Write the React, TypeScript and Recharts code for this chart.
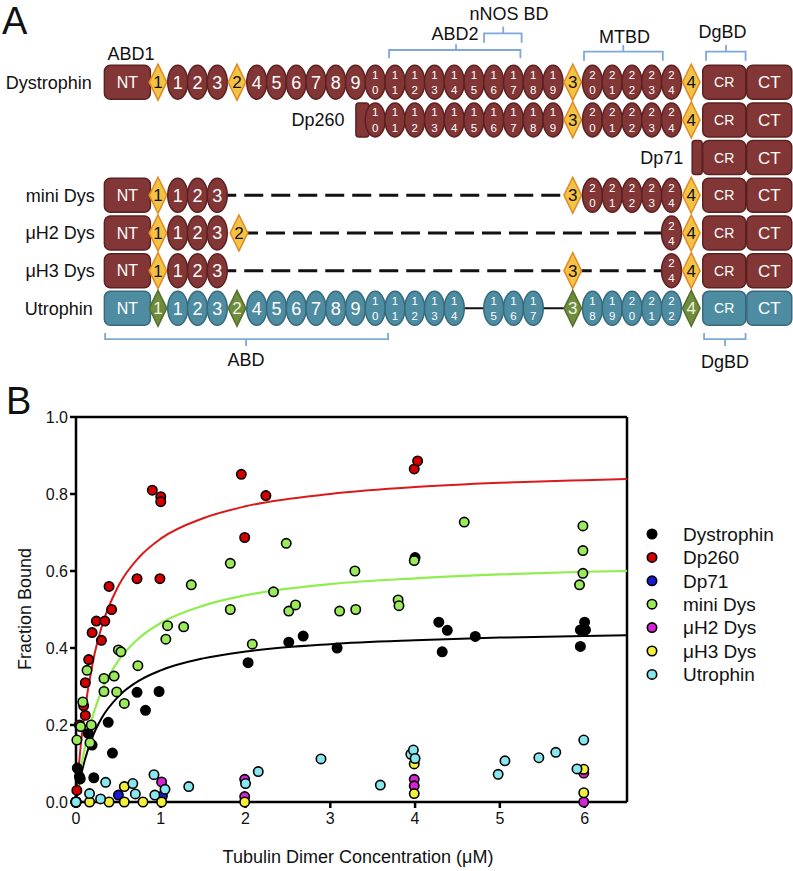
import {
  ComposedChart,
  ScatterChart,
  Scatter,
  Line,
  XAxis,
  YAxis,
  ReferenceLine,
  Customized,
} from "recharts";

const FONT = "'Liberation Sans', Arial, Helvetica, sans-serif";

/* ================= panel A : domain maps ================= */

// protein names, one per row
const rowNames = ["Dystrophin", "Dp260", "Dp71", "mini Dys", "μH2 Dys", "μH3 Dys", "Utrophin"];
// slot where each name ends (text is right aligned)
const rowNameEnd = [-3.35, 9.45, 26.6, -3.2, -3.2, -3.2, -3.3];

// [domain, slot]  NT / CR / CT boxes, H = hinge, R = spectrin repeat, S = truncated start
const dystrophinDomains: [string, number][] = [
  ["NT", -1.55], ["H1", 0], ["R1", 1], ["R2", 2], ["R3", 3], ["H2", 4],
  ["R4", 5], ["R5", 6], ["R6", 7], ["R7", 8], ["R8", 9], ["R9", 10], ["R10", 11],
  ["R11", 12], ["R12", 13], ["R13", 14], ["R14", 15], ["R15", 16], ["R16", 17],
  ["R17", 18], ["R18", 19], ["R19", 20], ["H3", 21], ["R20", 22], ["R21", 23],
  ["R22", 24], ["R23", 25], ["R24", 26], ["H4", 27], ["CR", 28.67], ["CT", 30.95],
];
const dp260Domains: [string, number][] = [
  ["S260", 10.35], ["R10", 11], ["R11", 12], ["R12", 13], ["R13", 14], ["R14", 15],
  ["R15", 16], ["R16", 17], ["R17", 18], ["R18", 19], ["R19", 20], ["H3", 21],
  ["R20", 22], ["R21", 23], ["R22", 24], ["R23", 25], ["R24", 26], ["H4", 27],
  ["CR", 28.67], ["CT", 30.95],
];
const dp71Domains: [string, number][] = [["S71", 27.3], ["CR", 28.67], ["CT", 30.95]];
const miniDysDomains: [string, number][] = [
  ["NT", -1.55], ["H1", 0], ["R1", 1], ["R2", 2], ["R3", 3], ["H3", 21],
  ["R20", 22], ["R21", 23], ["R22", 24], ["R23", 25], ["R24", 26], ["H4", 27],
  ["CR", 28.67], ["CT", 30.95],
];
const uH2Domains: [string, number][] = [
  ["NT", -1.55], ["H1", 0], ["R1", 1], ["R2", 2], ["R3", 3], ["H2", 4.1],
  ["R24", 26], ["H4", 27], ["CR", 28.67], ["CT", 30.95],
];
const uH3Domains: [string, number][] = [
  ["NT", -1.55], ["H1", 0], ["R1", 1], ["R2", 2], ["R3", 3], ["H3", 21],
  ["R24", 26], ["H4", 27], ["CR", 28.67], ["CT", 30.95],
];
const utrophinDomains: [string, number][] = [
  ["NT", -1.55], ["H1", 0], ["R1", 1], ["R2", 2], ["R3", 3], ["H2", 4],
  ["R4", 5], ["R5", 6], ["R6", 7], ["R7", 8], ["R8", 9], ["R9", 10], ["R10", 11],
  ["R11", 12], ["R12", 13], ["R13", 14], ["R14", 15], ["R15", 17], ["R16", 18],
  ["R17", 19], ["H3", 21], ["R18", 22], ["R19", 23], ["R20", 24], ["R21", 25],
  ["R22", 26], ["H4", 27], ["CR", 28.67], ["CT", 30.95],
];
const rowDomains = [
  dystrophinDomains, dp260Domains, dp71Domains, miniDysDomains,
  uH2Domains, uH3Domains, utrophinDomains,
];

// missing stretches: row, from slot, to slot, dashed (deleted) or solid (hinge gap)
const gaps: [number, number, number, boolean][] = [
  [3, 3, 21, true],
  [4, 4.1, 26, true],
  [5, 3, 21, true],
  [5, 21, 26, true],
  [6, 15, 17, false],
  [6, 19, 21, false],
];

// brackets: from, to, tip slot, bar row, end row, tip row
const bracketNames = ["ABD2", "nNOS BD", "MTBD", "DgBD", "ABD", "DgBD"];
const brackets: [number, number, number, number, number, number][] = [
  [11.7, 18.35, 15.09, -0.855, -0.634, -1.006],
  [16.51, 18.41, 17.48, -1.297, -1.048, -1.473],
  [21.57, 25.56, 23.56, -0.81, -0.571, -0.987],
  [27.75, 29.75, 28.76, -0.81, -0.571, -0.987],
  [-2.68, 11.65, 4.46, 6.814, 6.655, 6.999],
  [27.65, 29.75, 28.71, 6.814, 6.655, 6.999],
];
// label anchors: slot, row
const bracketLabelPos: [number, number][] = [
  [15.04, -1.297], [17.77, -1.828], [23.62, -1.207], [28.58, -1.34], [4.46, 7.37], [28.71, 7.42],
];
const abd1Pos: [number, number] = [-1.37, -0.767];

const BOX_W: Record<string, number> = { NT: 46, CR: 43, CT: 45, S260: 13, S71: 10 };

function DomainShape(props: any) {
  const { cx, cy, payload } = props;
  const id: string = payload.id;
  const utr = payload.utr;
  const fill = utr ? "#4E8CA2" : "#833636";
  const edge = utr ? "#376A7D" : "#5C2121";
  if (BOX_W[id]) {
    const w = BOX_W[id];
    const stub = id[0] === "S";
    return (
      <g>
        <rect x={cx - w / 2} y={cy - 17} width={w} height={34} rx={stub ? 3 : 6} fill={fill} stroke={edge} strokeWidth={1.5} />
        {!stub && (
          <text x={cx} y={cy} dy="0.36em" textAnchor="middle" fill="#fff" fontFamily={FONT}
            fontSize={id === "CR" ? 14 : id === "CT" ? 17 : 16}>
            {id}
          </text>
        )}
      </g>
    );
  }
  if (id[0] === "H") {
    return (
      <g>
        <polygon
          points={`${cx},${cy - 18} ${cx + 8.8},${cy} ${cx},${cy + 18} ${cx - 8.8},${cy}`}
          fill={utr ? "#6E8C3C" : "#F5C344"} stroke={utr ? "#55702C" : "#E08A25"} strokeWidth={1.5}
        />
        <text x={cx} y={cy} dy="0.36em" textAnchor="middle" fontFamily={FONT} fontSize={17}
          fill={utr ? "#EEF3E0" : "#111"}>
          {id.slice(1)}
        </text>
      </g>
    );
  }
  const n = id.slice(1);
  return (
    <g>
      <ellipse cx={cx} cy={cy} rx={10} ry={17} fill={fill} stroke={edge} strokeWidth={1.5} />
      {n.length === 1 ? (
        <text x={cx} y={cy} dy="0.36em" textAnchor="middle" fill="#fff" fontFamily={FONT} fontSize={18}>{n}</text>
      ) : (
        <g fill="#fff" fontFamily={FONT} fontSize={11.5} textAnchor="middle">
          <text x={cx} y={cy - 7.6} dy="0.36em">{n[0]}</text>
          <text x={cx} y={cy + 7.6} dy="0.36em">{n[1]}</text>
        </g>
      )}
    </g>
  );
}

const TextShape = (props: any) => (
  <text x={props.cx} y={props.cy} dy="0.36em" textAnchor={props.payload.anchor} fontFamily={FONT}
    fontSize={18} fill="#111">
    {props.payload.text}
  </text>
);

const Nothing = () => <g />;

const PanelA = () => {
  const domainPoints = rowDomains.flatMap((doms, row) =>
    doms.map(([id, slot]) => ({ x: slot, y: row, id, utr: row === 6 }))
  );
  const labels = [
    ...rowNames.map((t, row) => ({ x: rowNameEnd[row], y: row, text: t, anchor: "end" })),
    ...bracketNames.map((t, i) => ({ x: bracketLabelPos[i][0], y: bracketLabelPos[i][1], text: t, anchor: "middle" })),
    { x: abd1Pos[0], y: abd1Pos[1], text: "ABD1", anchor: "middle" },
  ];
  return (
    <ScatterChart width={793} height={380} margin={{ top: 0, right: 0, bottom: 0, left: 0 }}>
      <XAxis type="number" dataKey="x" domain={[-8, 32.152]} allowDataOverflow hide />
      <YAxis type="number" dataKey="y" domain={[-2.181, 7.901]} allowDataOverflow reversed hide />
      {gaps.map(([row, from, to, dashed], i) => (
        <Scatter
          key={`gap-${i}`}
          data={[{ x: from, y: row }, { x: to, y: row }]}
          fill="none"
          shape={Nothing}
          line={{ stroke: "#111", strokeWidth: dashed ? 3 : 2, strokeDasharray: dashed ? "19 8" : undefined }}
          isAnimationActive={false}
        />
      ))}
      {brackets.map(([from, to, tip, bar, end, tipY], i) => (
        <Scatter
          key={`br-${i}`}
          data={[
            { x: from, y: end }, { x: from, y: bar }, { x: tip, y: bar }, { x: tip, y: tipY },
            { x: tip, y: bar }, { x: to, y: bar }, { x: to, y: end },
          ]}
          fill="none"
          shape={Nothing}
          line={{ stroke: "#7FA8DA", strokeWidth: 1.8 }}
          isAnimationActive={false}
        />
      ))}
      <Scatter data={domainPoints} shape={DomainShape} isAnimationActive={false} />
      <Scatter data={labels} shape={TextShape} isAnimationActive={false} />
      <Customized
        component={() => (
          <text x={2} y={34} fontFamily={FONT} fontSize={38} fill="#111">A</text>
        )}
      />
    </ScatterChart>
  );
};

/* ================= panel B : co-sedimentation ================= */

const seriesNames = ["Dystrophin", "Dp260", "Dp71", "mini Dys", "μH2 Dys", "μH3 Dys", "Utrophin"];
const seriesColors = ["#000000", "#D20000", "#1A1ACF", "#9BEA5A", "#D425D4", "#F4EF3C", "#88E6EE"];

const dystrophinPts: [number, number][] = [
  [0, 0], [0.015, 0.088], [0.04, 0.066], [0.05, 0.06], [0.145, 0.178], [0.19, 0.148],
  [0.21, 0.063], [0.38, 0.207], [0.43, 0.127], [0.72, 0.285], [0.82, 0.238], [0.98, 0.287],
  [2.03, 0.362], [2.51, 0.415], [2.68, 0.431], [3.08, 0.4], [4.0, 0.635], [4.28, 0.467],
  [4.32, 0.39], [4.38, 0.446], [4.71, 0.43], [5.95, 0.447], [5.95, 0.404], [6.0, 0.467],
  [6.01, 0.447],
];
const dp260Pts: [number, number][] = [
  [0, 0], [0.01, 0.03], [0.04, 0.2], [0.09, 0.25], [0.11, 0.225], [0.11, 0.31],
  [0.15, 0.37], [0.19, 0.44], [0.24, 0.47], [0.3, 0.42], [0.34, 0.47], [0.39, 0.56],
  [0.42, 0.5], [0.72, 0.58], [0.9, 0.81], [0.99, 0.58], [1.0, 0.793], [1.0, 0.78],
  [1.95, 0.851], [1.99, 0.687], [2.24, 0.796], [3.99, 0.865], [4.03, 0.886],
];
const dp71Pts: [number, number][] = [[0, 0], [0.5, 0.018], [1.02, 0.016]];
const miniDysPts: [number, number][] = [
  [0, 0], [0.01, 0.161], [0.055, 0.196], [0.08, 0.26], [0.13, 0.342], [0.165, 0.154],
  [0.18, 0.2], [0.33, 0.321], [0.33, 0.287], [0.45, 0.327], [0.48, 0.286], [0.5, 0.395],
  [0.53, 0.39], [0.57, 0.256], [0.73, 0.354], [1.06, 0.423], [1.08, 0.458], [1.27, 0.455],
  [1.36, 0.564], [1.82, 0.62], [1.82, 0.5], [2.08, 0.41], [2.33, 0.546], [2.48, 0.672],
  [2.51, 0.496], [2.59, 0.512], [3.11, 0.496], [3.29, 0.6], [3.3, 0.5], [3.8, 0.525],
  [3.81, 0.51], [3.99, 0.627], [4.58, 0.727], [5.94, 0.564], [5.98, 0.594], [5.98, 0.653],
  [5.98, 0.717],
];
const uH2Pts: [number, number][] = [
  [0, 0], [1.01, 0.052], [1.99, 0.059], [1.99, 0.014], [3.99, 0.059], [3.99, 0.042],
  [5.99, 0.075], [5.99, 0.0],
];
const uH3Pts: [number, number][] = [
  [0, 0], [0.16, 0.0], [0.39, 0.0], [0.57, 0.0], [0.57, 0.04], [0.79, 0.0], [1.01, 0.0],
  [1.99, 0.0], [3.99, 0.022], [3.99, 0.099], [5.99, 0.024], [5.99, 0.085],
];
const utrophinPts: [number, number][] = [
  [0, 0], [0.16, 0.022], [0.29, 0.008], [0.35, 0.051], [0.67, 0.048], [0.7, 0.021],
  [0.92, 0.071], [0.93, 0.018], [1.05, 0.033], [1.33, 0.04], [2.0, 0.048], [2.15, 0.079],
  [2.89, 0.112], [3.59, 0.044], [3.95, 0.124], [3.98, 0.135], [4.0, 0.113], [4.98, 0.072],
  [5.06, 0.107], [5.46, 0.115], [5.66, 0.129], [5.91, 0.086], [5.99, 0.161],
];
const seriesPts = [dystrophinPts, dp260Pts, dp71Pts, miniDysPts, uH2Pts, uH3Pts, utrophinPts];

// fitted binding curves
const curveX = [0, 0.05, 0.1, 0.2, 0.3, 0.5, 0.75, 1, 1.5, 2, 3, 4, 5, 6, 6.5];
const dp260Fit = [0, 0.133, 0.23, 0.365, 0.453, 0.561, 0.637, 0.684, 0.737, 0.768, 0.8, 0.818, 0.829, 0.836, 0.839];
const miniDysFit = [0, 0.077, 0.137, 0.225, 0.287, 0.367, 0.427, 0.465, 0.51, 0.537, 0.566, 0.581, 0.591, 0.598, 0.6];
const dystrophinFit = [0, 0.06, 0.106, 0.172, 0.217, 0.274, 0.316, 0.342, 0.373, 0.391, 0.41, 0.42, 0.427, 0.431, 0.433];

const concTicks = [0, 1, 2, 3, 4, 5, 6];
const fractionTicks = [0, 0.2, 0.4, 0.6, 0.8, 1.0];

const toXY = (pts: [number, number][]) => pts.map(([x, y]) => ({ x, y }));
const fit = (ys: number[]) => curveX.map((x, i) => ({ x, y: ys[i] }));

const dotShape = (color: string) => (p: any) => (
  <circle cx={p.cx} cy={p.cy} r={4.7} fill={color} stroke="#000" strokeWidth={1.6} />
);

const axisStyle = { stroke: "#000", strokeWidth: 2.5 };
const tickStyle = { fill: "#111", fontSize: 16, fontFamily: FONT };

const PanelBText = () => (
  <g fontFamily={FONT} fill="#111">
    <text x={6} y={44} fontSize={38}>B</text>
    <text transform="translate(25,239) rotate(-90)" textAnchor="middle" dy="0.36em" fontSize={18}>
      Fraction Bound
    </text>
    <text x={358} y={487} textAnchor="middle" dy="0.36em" fontSize={18}>
      Tubulin Dimer Concentration (μM)
    </text>
    {seriesNames.map((name, i) => (
      <g key={name}>
        <circle cx={652} cy={164 + 23.4 * i} r={4.7} fill={seriesColors[i]} stroke="#000" strokeWidth={1.6} />
        <text x={683} y={164 + 23.4 * i} dy="0.36em" fontSize={19}>{name}</text>
      </g>
    ))}
  </g>
);

const PanelB = () => (
  <ComposedChart width={793} height={501} margin={{ top: 47, right: 166, bottom: 39, left: 16 }}>
    <XAxis
      type="number"
      dataKey="x"
      domain={[0, 6.5]}
      ticks={concTicks}
      height={30}
      axisLine={axisStyle}
      tickLine={axisStyle}
      tickSize={6}
      tickMargin={5}
      tick={tickStyle}
    />
    <YAxis
      type="number"
      dataKey="y"
      domain={[0, 1]}
      ticks={fractionTicks}
      width={60}
      axisLine={axisStyle}
      tickLine={axisStyle}
      tickSize={6}
      tickMargin={2}
      tick={tickStyle}
      tickFormatter={(v: number) => v.toFixed(1)}
    />
    <ReferenceLine y={1} stroke="#000" strokeWidth={2.5} />
    <ReferenceLine x={6.5} stroke="#000" strokeWidth={2.5} />
    <Line data={fit(dystrophinFit)} dataKey="y" type="monotone" stroke="#000" strokeWidth={2} dot={false} isAnimationActive={false} />
    <Line data={fit(miniDysFit)} dataKey="y" type="monotone" stroke="#8EEE4E" strokeWidth={2.2} dot={false} isAnimationActive={false} />
    <Line data={fit(dp260Fit)} dataKey="y" type="monotone" stroke="#DA1A1A" strokeWidth={2} dot={false} isAnimationActive={false} />
    {seriesPts.map((pts, i) => (
      <Scatter
        key={seriesNames[i]}
        name={seriesNames[i]}
        data={toXY(pts)}
        fill={seriesColors[i]}
        shape={dotShape(seriesColors[i])}
        isAnimationActive={false}
      />
    ))}
    <Customized component={PanelBText} />
  </ComposedChart>
);

export default function App() {
  return (
    <div style={{ position: "absolute", left: 0, top: 0, width: 793, height: 871, background: "#fff" }}>
      <div style={{ position: "absolute", left: 0, top: 0 }}>
        <PanelA />
      </div>
      <div style={{ position: "absolute", left: 0, top: 370 }}>
        <PanelB />
      </div>
    </div>
  );
}
